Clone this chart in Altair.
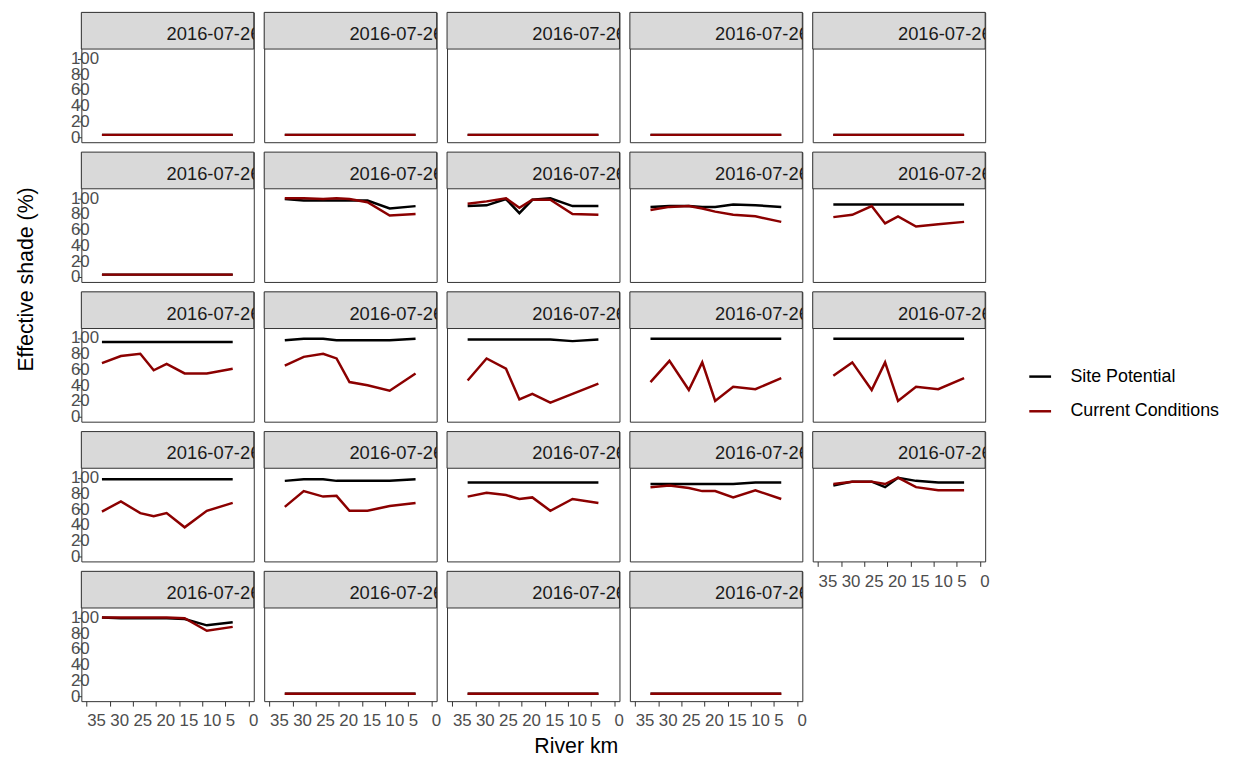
import altair as alt
import pandas as pd

# ---------------- data ----------------
km = [31.7, 27.6, 23.4, 20.5, 17.7, 13.8, 9.0, 3.4]
strip_labels = ["2016-07-26"] * 24
series_names = ["Site Potential", "Current Conditions"]
series_colors = ["#000000", "#8B0000"]
x_ticks = [0, 5, 10, 15, 20, 25, 30, 35]
y_ticks = [0, 20, 40, 60, 80, 100]

flat = [3, 3, 3, 3, 3, 3, 3, 3]
site_potential = [
    flat, flat, flat, flat, flat,
    flat,
    [99, 97, 97, 97, 97, 97, 87, 90],
    [90, 91, 99, 81, 98, 100, 90, 90],
    [89, 90, 90, 89, 89, 92, 91, 89],
    [92, 92, 92, 92, 92, 92, 92, 92],
    [95, 95, 95, 95, 95, 95, 95, 95],
    [97, 99, 99, 97, 97, 97, 97, 99],
    [98, 98, 98, 98, 98, 98, 96, 98],
    [99, 99, 99, 99, 99, 99, 99, 99],
    [99, 99, 99, 99, 99, 99, 99, 99],
    [98, 98, 98, 98, 98, 98, 98, 98],
    [96, 98, 98, 96, 96, 96, 96, 98],
    [94, 94, 94, 94, 94, 94, 94, 94],
    [92, 92, 92, 92, 92, 92, 94, 94],
    [90, 95, 95, 88, 100, 96, 94, 94],
    [100, 99, 99, 99, 99, 98, 90, 94],
    flat, flat, flat,
]
current_conditions = [
    flat, flat, flat, flat, flat,
    flat,
    [100, 100, 99, 100, 99, 95, 78, 80],
    [93, 96, 100, 88, 98, 98, 80, 79],
    [85, 89, 90, 87, 83, 79, 77, 70],
    [76, 79, 90, 68, 77, 64, 67, 70],
    [68, 77, 80, 59, 67, 55, 55, 61],
    [65, 76, 80, 74, 44, 40, 33, 55],
    [46, 74, 61, 22, 29, 18, 29, 42],
    [44, 71, 34, 69, 20, 38, 35, 49],
    [52, 69, 34, 69, 20, 38, 35, 49],
    [57, 70, 55, 51, 55, 37, 58, 68],
    [63, 83, 76, 77, 58, 58, 64, 68],
    [76, 81, 78, 73, 75, 58, 73, 68],
    [88, 90, 87, 83, 83, 75, 84, 73],
    [92, 95, 95, 92, 100, 88, 84, 84],
    [100, 100, 100, 100, 100, 99, 83, 88],
    flat, flat, flat,
]

# ---------------- layout / style ----------------
FONT = "Liberation Sans"
W = 174
H_STRIP = 37
H_PANEL = 94
H = H_STRIP + H_PANEL
NCOL = 5
N = len(strip_labels)
BORDER = "#333333"
AXIS_TXT = "#4D4D4D"

x_scale = alt.Scale(domain=[-1.16, 36.16], reverse=True, nice=False, zero=False)
y_scale = alt.Scale(domain=[-6.3, 112], range=[H, H_STRIP], nice=False, zero=False)
color_scale = alt.Scale(domain=series_names, range=series_colors)


def x_axis(show, with_title=False):
    if not show:
        return None
    kw = dict(values=x_ticks, labelAlign="left", tickSize=5, tickColor=BORDER,
              labelColor=AXIS_TXT, labelFontSize=17, labelFont=FONT,
              labelPadding=7, labelOverlap=False, labelFlush=False,
              labelBound=False, domain=False, grid=False, labelBaseline="top")
    if with_title:
        kw.update(title="River km", titleX=130, titleY=52, titleAlign="center",
                  titleBaseline="alphabetic", titleFontSize=21.5, titleFont=FONT,
                  titleFontWeight="normal", titleColor="#000000")
    else:
        kw.update(title=None)
    return alt.Axis(**kw)


def y_axis(show, with_title=False):
    if not show:
        return None
    kw = dict(values=y_ticks, labelAlign="left", tickSize=4, tickColor=BORDER,
              labelColor=AXIS_TXT, labelFontSize=17, labelFont=FONT,
              labelPadding=7, labelOverlap=False, labelFlush=False,
              labelBound=False, domain=False, grid=False)
    if with_title:
        kw.update(title="Effective shade (%)", titleX=-44, titleY=128,
                  titleAlign="center", titleAngle=270, titleBaseline="bottom",
                  titleFontSize=21.5, titleFont=FONT, titleFontWeight="normal",
                  titleColor="#000000")
    else:
        kw.update(title=None)
    return alt.Axis(**kw)


def panel(i):
    show_x = (i + NCOL) >= N
    show_y = (i % NCOL) == 0
    rows = []
    for k, v in zip(km, site_potential[i]):
        rows.append({"km": k, "shade": v, "series": series_names[0]})
    for k, v in zip(km, current_conditions[i]):
        rows.append({"km": k, "shade": v, "series": series_names[1]})
    df = pd.DataFrame(rows)

    xa = x_axis(show_x, with_title=(i == 22))
    ya = y_axis(show_y, with_title=(i == 5))
    x_enc = alt.X("km:Q", scale=x_scale, axis=xa)
    y_enc = alt.Y("shade:Q", scale=y_scale, axis=ya)
    color_enc = alt.Color("series:N", scale=color_scale, title=None)

    base = alt.Chart(df)
    sp = base.transform_filter(alt.datum.series == series_names[0]).mark_line(
        strokeWidth=2.5).encode(x=x_enc, y=y_enc, color=color_enc)
    cc = base.transform_filter(alt.datum.series == series_names[1]).mark_line(
        strokeWidth=2.5).encode(x=x_enc, y=y_enc, color=color_enc)

    strip_df = pd.DataFrame({"label": [strip_labels[i]]})
    strip_bg = alt.Chart(strip_df).mark_rect(
        fill="#D9D9D9", stroke=BORDER, strokeWidth=1).encode(
        x=alt.value(0), x2=alt.value(W), y=alt.value(0), y2=alt.value(H_STRIP))
    strip_txt = alt.Chart(strip_df).mark_text(
        align="left", baseline="alphabetic", fontSize=18.5, font=FONT,
        color="#1A1A1A", clip=True).encode(
        x=alt.value(W / 2 - 1), y=alt.value(28), text="label:N")

    return alt.layer(strip_bg, strip_txt, sp, cc).properties(width=W, height=H)


panels = [panel(i) for i in range(N)]

chart = alt.concat(
    *panels, columns=NCOL, spacing=alt.RowColnumber(row=10, column=10.5),
    bounds="flush"
).resolve_scale(
    x="independent", y="independent", color="shared"
).resolve_legend(color="shared").properties(
    padding={"left": 7, "top": 0, "right": 5, "bottom": 4}
).configure_view(
    stroke=BORDER, strokeWidth=1, fill="white"
).configure_legend(
    orient="none", legendX=955, legendY=355, symbolType="stroke",
    symbolSize=484, symbolStrokeWidth=2.5, labelFontSize=18, labelFont=FONT,
    labelColor="#000000", labelOffset=18, rowPadding=13, padding=0
)

chart.save("out.html", embed_options={"renderer": "svg", "actions": False})
